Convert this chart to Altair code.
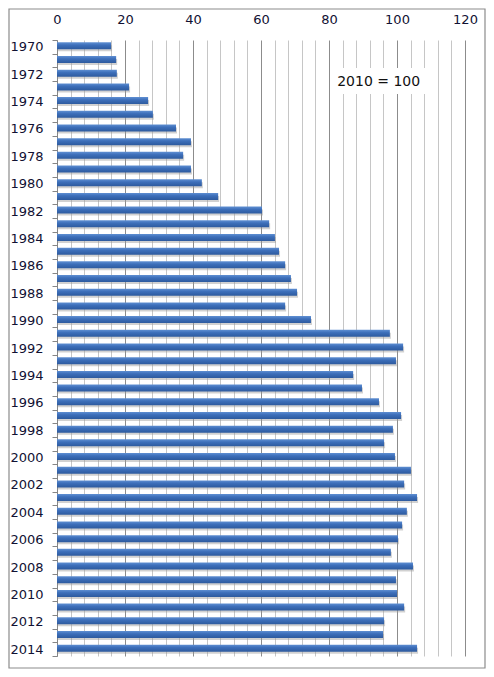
import altair as alt
import pandas as pd

# Index values (2010 = 100)
years = list(range(1970, 2015))
index_values = [
    15.9, 17.4, 17.6, 21.2, 26.8, 28.2, 35.0, 39.4, 37.1, 39.4,
    42.6, 47.4, 60.3, 62.4, 64.1, 65.3, 67.1, 68.8, 70.6, 67.1,
    74.7, 97.9, 101.8, 99.7, 87.1, 89.7, 94.7, 101.2, 98.8, 96.2,
    99.4, 104.1, 102.1, 105.9, 102.9, 101.5, 100.3, 98.2, 104.7, 99.7,
    100.0, 102.1, 96.2, 95.9, 105.9,
]
grid_steps = list(range(0, 121, 4))
note_text = "2010 = 100"

df = pd.DataFrame({"year": years, "value": index_values})
note = pd.DataFrame({"value": [80.5], "x2": [109.5], "xt": [94.6], "year": [1973], "label": [note_text]})

FONT = "DejaVu Sans"
x_scale = alt.Scale(domain=[0, 120], nice=False, zero=True)
x_axis = alt.Axis(
    orient="top",
    values=grid_steps,
    labelExpr="datum.value % 20 === 0 ? datum.label : ''",
    labelOverlap=False,
    labelFlush=False,
    ticks=False,
    domain=False,
    labelPadding=14,
    labelFont=FONT,
    labelFontSize=13,
    labelColor="#111133",
    grid=True,
    gridColor=alt.condition(
        "datum.value % 20 === 0", alt.value("#8c8c8c"), alt.value("#c6c6c6")
    ),
    gridWidth=1,
)
y_axis = alt.Axis(
    labelExpr="datum.value % 2 === 0 ? datum.label : ''",
    labelOverlap=False,
    tickBand="extent",
    tickSize=5,
    tickColor="#868686",
    domainColor="#868686",
    labelPadding=9,
    labelFont=FONT,
    labelFontSize=13,
    labelColor="#111133",
    grid=False,
)
x_enc = alt.X("value:Q", scale=x_scale, axis=x_axis, title=None)
y_enc = alt.Y("year:O", scale=alt.Scale(paddingInner=0, paddingOuter=0), axis=y_axis, title=None)

bar_fill = alt.Gradient(
    gradient="linear",
    stops=[
        alt.GradientStop(color="#5f8fd2", offset=0),
        alt.GradientStop(color="#3d6fba", offset=0.4),
        alt.GradientStop(color="#2d5a9e", offset=1),
    ],
    x1=0, x2=0, y1=0, y2=1,
)

shadow = (
    alt.Chart(df)
    .mark_bar(size=6, color="#9a9a9a", opacity=0.45, yOffset=1.5, xOffset=1)
    .encode(x=x_enc, y=y_enc)
)

bars = (
    alt.Chart(df)
    .mark_bar(size=7, color=bar_fill, yOffset=-1)
    .encode(x=x_enc, y=y_enc)
)

# white box behind the note, hiding the grid lines
note_box = (
    alt.Chart(note)
    .mark_bar(size=26, color="white", yOffset=-7)
    .encode(x=x_enc, x2="x2:Q", y=y_enc)
)
note_label = (
    alt.Chart(note)
    .mark_text(font=FONT, fontSize=14, color="#111111", yOffset=-6)
    .encode(x=alt.X("xt:Q", scale=x_scale, axis=x_axis, title=None), y=y_enc, text="label:N")
)

# outer frame around the whole chart
frame = (
    alt.Chart(note)
    .mark_rect(fill="white", fillOpacity=0, stroke="#8c8c8c", strokeWidth=1.2)
    .encode(
        x=alt.value(-48), x2=alt.value(428),
        y=alt.value(-31), y2=alt.value(628),
    )
)

chart = (
    alt.layer(shadow, bars, note_box, note_label, frame)
    .properties(
        width=408,
        height=616,
        autosize=alt.AutoSizeParams(type="none"),
        padding={"left": 49, "top": 32, "right": 21, "bottom": 13},
        background="white",
    )
    .configure_view(stroke=None)
)

chart.save("out.html", embed_options={"renderer": "svg", "actions": False})
